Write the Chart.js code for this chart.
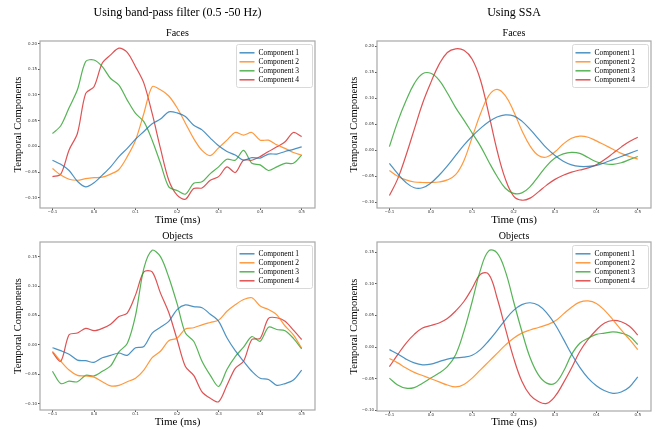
<!DOCTYPE html>
<html>
<head>
<meta charset="utf-8">
<script src="https://cdn.jsdelivr.net/npm/chart.js@4.4.0/dist/chart.umd.min.js"></script>
<style>
  body { margin: 0; background: #fff; }
  #wrap { position: relative; width: 660px; height: 429px; }
  canvas { position: absolute; }
</style>
</head>
<body>
<div id="wrap">
  <canvas id="bpFaces" width="330" height="230" style="left:0;top:0"></canvas>
  <canvas id="ssaFaces" width="330" height="230" style="left:330px;top:0"></canvas>
  <canvas id="bpObjects" width="330" height="203" style="left:0;top:226px"></canvas>
  <canvas id="ssaObjects" width="330" height="203" style="left:330px;top:226px"></canvas>
</div>
<script>
// time axis (s, labelled ms in the figure)
var times = [-0.10, -0.08, -0.06, -0.04, -0.02, 0.00, 0.02, 0.04, 0.06, 0.08, 0.10,
             0.12, 0.14, 0.16, 0.18, 0.20, 0.22, 0.24, 0.26, 0.28, 0.30,
             0.32, 0.34, 0.36, 0.38, 0.40, 0.42, 0.44, 0.46, 0.48, 0.50];

var componentNames = ["Component 1", "Component 2", "Component 3", "Component 4"];

var xTicks = [-0.1, 0.0, 0.1, 0.2, 0.3, 0.4, 0.5];
var yTicksFaces = [-0.10, -0.05, 0.00, 0.05, 0.10, 0.15, 0.20];
var yTicksObjects = [-0.10, -0.05, 0.00, 0.05, 0.10, 0.15];

// band-pass, faces
var bpFaces1 = [-0.027, -0.035, -0.047, -0.068, -0.079, -0.071, -0.056, -0.040, -0.020, -0.004, 0.014,
                0.029, 0.044, 0.053, 0.067, 0.065, 0.058, 0.041, 0.032, 0.016, 0.001,
                -0.010, -0.017, -0.027, -0.022, -0.023, -0.015, -0.015, -0.010, -0.006, -0.001];
var bpFaces2 = [-0.043, -0.056, -0.064, -0.066, -0.063, -0.061, -0.060, -0.054, -0.045, -0.020, 0.012,
                0.064, 0.116, 0.110, 0.098, 0.075, 0.045, 0.015, -0.008, -0.018, -0.003,
                0.012, 0.027, 0.022, 0.027, 0.012, 0.012, 0.003, -0.004, -0.012, -0.017];
var bpFaces3 = [0.025, 0.040, 0.075, 0.110, 0.165, 0.168, 0.155, 0.132, 0.119, 0.090, 0.064,
                0.048, 0.012, -0.033, -0.079, -0.086, -0.093, -0.072, -0.069, -0.053, -0.040,
                -0.025, -0.027, -0.008, -0.033, -0.036, -0.047, -0.040, -0.033, -0.033, -0.017];
var bpFaces4 = [-0.059, -0.054, -0.007, 0.025, 0.103, 0.116, 0.162, 0.178, 0.191, 0.183, 0.155,
                0.123, 0.064, -0.004, -0.066, -0.095, -0.103, -0.082, -0.081, -0.066, -0.059,
                -0.040, -0.051, -0.027, -0.027, -0.020, -0.010, -0.001, 0.009, 0.027, 0.019];

// SSA, faces
var ssaFaces1 = [-0.025, -0.045, -0.062, -0.072, -0.072, -0.063, -0.048, -0.030, -0.010, 0.010, 0.027,
                 0.042, 0.055, 0.064, 0.068, 0.066, 0.056, 0.040, 0.022, 0.004, -0.010,
                 -0.021, -0.028, -0.031, -0.031, -0.029, -0.024, -0.018, -0.012, -0.006, 0.000];
var ssaFaces2 = [-0.039, -0.050, -0.057, -0.061, -0.062, -0.062, -0.061, -0.057, -0.047, -0.020, 0.025,
                 0.070, 0.105, 0.117, 0.105, 0.075, 0.038, 0.008, -0.010, -0.013, -0.003,
                 0.012, 0.023, 0.027, 0.025, 0.018, 0.010, 0.002, -0.006, -0.012, -0.017];
var ssaFaces3 = [0.007, 0.055, 0.095, 0.128, 0.147, 0.148, 0.135, 0.110, 0.082, 0.058, 0.033,
                 0.008, -0.022, -0.050, -0.073, -0.083, -0.082, -0.070, -0.050, -0.030, -0.015,
                 -0.007, -0.004, -0.006, -0.014, -0.022, -0.026, -0.027, -0.024, -0.018, -0.012];
var ssaFaces4 = [-0.087, -0.055, -0.010, 0.040, 0.090, 0.130, 0.165, 0.188, 0.195, 0.192, 0.175,
                 0.135, 0.070, 0.000, -0.055, -0.088, -0.096, -0.092, -0.080, -0.067, -0.056,
                 -0.048, -0.042, -0.038, -0.034, -0.028, -0.018, -0.006, 0.006, 0.017, 0.025];

// band-pass, objects
var bpObjects1 = [-0.005, -0.010, -0.016, -0.026, -0.027, -0.030, -0.022, -0.018, -0.014, -0.018, -0.005,
                  -0.003, 0.020, 0.030, 0.040, 0.060, 0.068, 0.065, 0.063, 0.052, 0.040,
                  0.012, -0.010, -0.028, -0.045, -0.057, -0.059, -0.069, -0.066, -0.060, -0.043];
var bpObjects2 = [-0.011, -0.028, -0.043, -0.052, -0.053, -0.055, -0.063, -0.070, -0.069, -0.063, -0.057,
                  -0.043, -0.022, -0.011, 0.007, 0.011, 0.027, 0.029, 0.034, 0.038, 0.042,
                  0.057, 0.068, 0.077, 0.080, 0.066, 0.060, 0.051, 0.032, 0.017, -0.006];
var bpObjects3 = [-0.045, -0.066, -0.062, -0.063, -0.052, -0.053, -0.045, -0.036, -0.012, 0.002, 0.050,
                  0.130, 0.161, 0.150, 0.115, 0.070, 0.020, 0.006, -0.028, -0.052, -0.071,
                  -0.042, -0.020, -0.004, 0.014, 0.006, 0.030, 0.026, 0.024, 0.011, -0.007];
var bpObjects4 = [-0.013, -0.028, 0.017, 0.020, 0.028, 0.024, 0.028, 0.035, 0.048, 0.054, 0.085,
                  0.124, 0.124, 0.088, 0.055, 0.009, -0.037, -0.052, -0.080, -0.091, -0.097,
                  -0.069, -0.040, -0.028, 0.009, 0.011, 0.045, 0.046, 0.040, 0.025, 0.009];

// SSA, objects
var ssaObjects1 = [-0.004, -0.011, -0.019, -0.025, -0.028, -0.027, -0.023, -0.019, -0.017, -0.016, -0.013,
                   -0.004, 0.010, 0.026, 0.043, 0.058, 0.067, 0.070, 0.066, 0.054, 0.036,
                   0.013, -0.011, -0.032, -0.049, -0.061, -0.069, -0.073, -0.071, -0.063, -0.047];
var ssaObjects2 = [-0.018, -0.025, -0.033, -0.040, -0.045, -0.050, -0.055, -0.060, -0.063, -0.059, -0.049,
                   -0.036, -0.023, -0.010, 0.003, 0.014, 0.022, 0.027, 0.031, 0.035, 0.041,
                   0.052, 0.063, 0.071, 0.073, 0.069, 0.058, 0.043, 0.027, 0.012, -0.004];
var ssaObjects3 = [-0.049, -0.060, -0.065, -0.064, -0.057, -0.049, -0.041, -0.031, -0.012, 0.025, 0.072,
                   0.122, 0.152, 0.149, 0.120, 0.072, 0.025, -0.017, -0.044, -0.057, -0.057,
                   -0.039, -0.012, 0.006, 0.014, 0.020, 0.022, 0.024, 0.022, 0.017, 0.004];
var ssaObjects4 = [-0.031, -0.012, 0.006, 0.020, 0.030, 0.034, 0.038, 0.045, 0.057, 0.072, 0.093,
                   0.115, 0.115, 0.078, 0.030, -0.017, -0.054, -0.076, -0.086, -0.089, -0.078,
                   -0.057, -0.033, -0.007, 0.012, 0.027, 0.038, 0.042, 0.040, 0.033, 0.019];

var colors = ["rgba(31,119,180,0.8)", "rgba(255,127,14,0.8)", "rgba(44,160,44,0.8)", "rgba(214,39,40,0.8)"];

function fmt(v, d) {
    if (Math.abs(v) < 1e-9) v = 0;
    var s = v.toFixed(d);
    return v < 0 ? "\u2212" + s.slice(1) : s;
}

// legend box drawn inside the plot, top right (matplotlib style)
var insideLegend = {
    id: 'insideLegend',
    afterDatasetsDraw: function (chart) {
        var ctx = chart.ctx, a = chart.chartArea;
        var w = 76, h = 43;
        var x = Math.round(a.right - w - 3) + 0.5, y = Math.round(a.top + 3) + 0.5;
        ctx.save();
        ctx.fillStyle = 'rgba(255,255,255,0.85)';
        ctx.strokeStyle = '#d9d9d9';
        ctx.lineWidth = 1;
        ctx.beginPath();
        ctx.roundRect(x, y, w, h, 2);
        ctx.fill();
        ctx.stroke();
        ctx.font = '7.5px "Liberation Serif"';
        ctx.textBaseline = 'middle';
        chart.data.datasets.forEach(function (ds, i) {
            var ry = y + 8.3 + i * 9;
            ctx.strokeStyle = ds.borderColor;
            ctx.lineWidth = 1.5;
            ctx.beginPath();
            ctx.moveTo(x + 3, ry);
            ctx.lineTo(x + 18, ry);
            ctx.stroke();
            ctx.fillStyle = '#000';
            ctx.fillText(ds.label, x + 22, ry);
        });
        ctx.restore();
    }
};

// box round the axes
var frame = {
    id: 'frame',
    afterDraw: function (chart) {
        var ctx = chart.ctx, a = chart.chartArea;
        ctx.save();
        ctx.strokeStyle = '#a8a8a8';
        ctx.lineWidth = 1.2;
        ctx.strokeRect(a.left, a.top, a.right - a.left, a.bottom - a.top);
        ctx.restore();
    }
};

function makeChart(id, colTitle, subTitle, series, yTicks, yMin, yMax, box) {
    var datasets = series.map(function (s, i) {
        return {
            label: componentNames[i],
            data: s,
            borderColor: colors[i],
            borderWidth: 1.2,
            pointRadius: 0,
            tension: box.tension,
            fill: false
        };
    });
    var title = colTitle
        ? { display: true, text: colTitle, fullSize: false, color: '#000',
            font: { family: 'Liberation Serif', size: 12, weight: 'normal' }, padding: { top: 6, bottom: 0 } }
        : { display: false };
    var subtitle = { display: true, text: subTitle, fullSize: false, color: '#000',
                     font: { family: 'Liberation Serif', size: 10, weight: 'normal' },
                     padding: colTitle ? { top: 6.6, bottom: 2 } : { top: 4, bottom: 0 } };

    var ctx = document.getElementById(id).getContext("2d");
    new Chart(ctx, {
        type: 'line',
        data: { labels: times, datasets: datasets },
        options: {
            responsive: false,
            animation: false,
            layout: { padding: { top: 0, left: 0, right: box.padRight, bottom: 0 } },
            plugins: {
                legend: { display: false },
                tooltip: { enabled: false },
                title: title,
                subtitle: subtitle
            },
            scales: {
                x: {
                    type: 'linear',
                    min: -0.13,
                    max: 0.532,
                    afterBuildTicks: function (scale) {
                        scale.ticks = xTicks.map(function (v) { return { value: v }; });
                    },
                    afterFit: function (scale) { scale.height = box.xHeight; },
                    ticks: {
                        padding: 0,
                        maxRotation: 0,
                        autoSkip: false,
                        color: '#333',
                        font: { family: 'DejaVu Sans', size: 4 },
                        callback: function (v) { return fmt(v, 1); }
                    },
                    grid: { drawOnChartArea: false, tickLength: 2, tickColor: '#555' },
                    border: { display: false },
                    title: {
                        display: true, text: 'Time (ms)', color: '#000',
                        font: { family: 'Liberation Serif', size: 11 },
                        padding: { top: 0, bottom: box.xTitlePad }
                    }
                },
                y: {
                    min: yMin,
                    max: yMax,
                    afterBuildTicks: function (scale) {
                        scale.ticks = yTicks.map(function (v) { return { value: v }; });
                    },
                    afterFit: function (scale) { scale.width = box.yWidth; },
                    ticks: {
                        padding: 1,
                        autoSkip: false,
                        color: '#333',
                        font: { family: 'DejaVu Sans', size: 4 },
                        callback: function (v) { return fmt(v, 2); }
                    },
                    grid: { drawOnChartArea: false, tickLength: 2, tickColor: '#555' },
                    border: { display: false },
                    title: {
                        display: true, text: 'Temporal Components', color: '#000',
                        font: { family: 'Liberation Serif', size: 10.5 },
                        padding: { top: box.yTitlePad, bottom: 0 }
                    }
                }
            }
        },
        plugins: [frame, insideLegend]
    });
}

makeChart("bpFaces", "Using band-pass filter (0.5 -50 Hz)", "Faces",
    [bpFaces1, bpFaces2, bpFaces3, bpFaces4], yTicksFaces, -0.120, 0.205,
    { padRight: 15, yWidth: 40, yTitlePad: 11.7, xHeight: 22, xTitlePad: 3.4, tension: 0.3 });

makeChart("ssaFaces", "Using SSA", "Faces",
    [ssaFaces1, ssaFaces2, ssaFaces3, ssaFaces4], yTicksFaces, -0.111, 0.210,
    { padRight: 9, yWidth: 47, yTitlePad: 17.7, xHeight: 22, xTitlePad: 3.4, tension: 0.4 });

makeChart("bpObjects", null, "Objects",
    [bpObjects1, bpObjects2, bpObjects3, bpObjects4], yTicksObjects, -0.111, 0.175,
    { padRight: 15, yWidth: 40, yTitlePad: 11.7, xHeight: 19, xTitlePad: 0.7, tension: 0.3 });

makeChart("ssaObjects", null, "Objects",
    [ssaObjects1, ssaObjects2, ssaObjects3, ssaObjects4], yTicksObjects, -0.101, 0.166,
    { padRight: 9, yWidth: 47, yTitlePad: 17.7, xHeight: 18, xTitlePad: 0, tension: 0.4 });
</script>
</body>
</html>
